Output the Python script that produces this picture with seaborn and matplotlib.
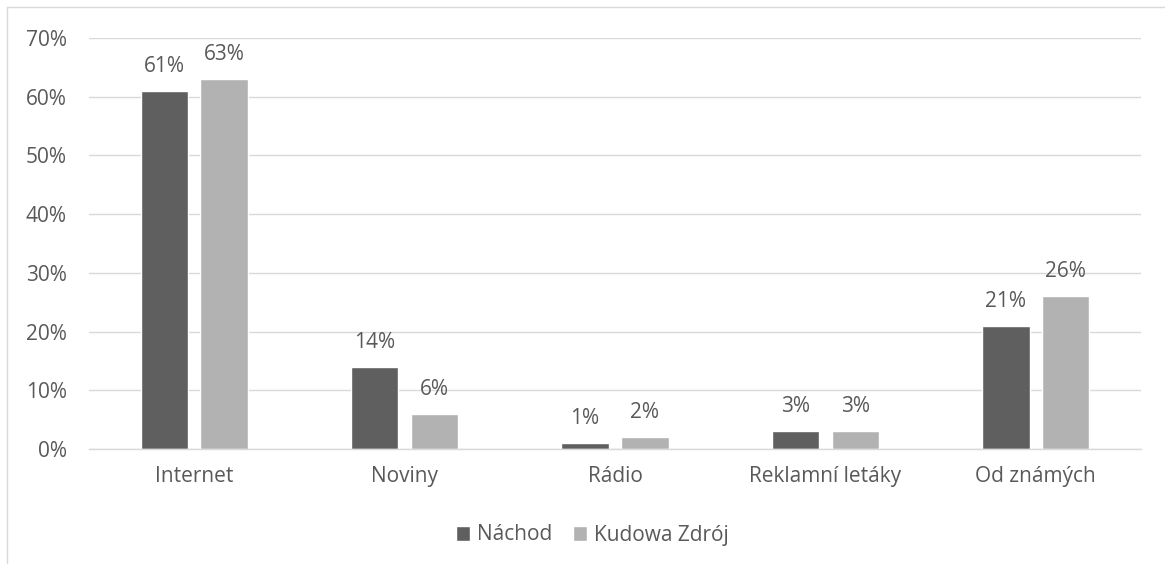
import seaborn as sns
import matplotlib.pyplot as plt
import pandas as pd
from matplotlib.lines import Line2D

categories = ['Internet', 'Noviny', 'Rádio', 'Reklamní letáky', 'Od známých']
nachod = [0.61, 0.14, 0.01, 0.03, 0.21]
kudowa = [0.63, 0.06, 0.02, 0.03, 0.26]
series = ['Náchod', 'Kudowa Zdrój']
colors = ['#5f5f5f', '#b2b2b2']
yticks = [0, 0.1, 0.2, 0.3, 0.4, 0.5, 0.6, 0.7]

text_color = '#595959'
grid_color = '#d9d9d9'

df = pd.DataFrame({
    'category': categories * 2,
    'value': nachod + kudowa,
    'series': [series[0]] * len(categories) + [series[1]] * len(categories),
})

sns.set_theme(style='white')
plt.rcParams['font.family'] = ['Open Sans', 'DejaVu Sans']

fig = plt.figure(figsize=(11.65, 5.64), dpi=100)
ax = fig.add_axes([89 / 1165, 1 - 449 / 564, (1141 - 89) / 1165, (449 - 38) / 564])

sns.barplot(data=df, x='category', y='value', hue='series', palette=colors,
            width=0.57, gap=0.21, saturation=1, ax=ax, legend=True)

for container in ax.containers:
    ax.bar_label(container, labels=[f'{v * 100:.0f}%' for v in container.datavalues],
                 padding=10, fontsize=15, color=text_color)

ax.set_ylim(0, 0.7)
ax.set_yticks(yticks)
ax.set_yticklabels([f'{t * 100:.0f}%' for t in yticks])
ax.set_xlim(-0.5, len(categories) - 0.5)
ax.set_xlabel('')
ax.set_ylabel('')
ax.yaxis.grid(True, color=grid_color, linewidth=1.0)
ax.set_axisbelow(True)
for side in ['left', 'right', 'top']:
    ax.spines[side].set_visible(False)
ax.spines['bottom'].set_color(grid_color)
ax.spines['bottom'].set_linewidth(1.0)
ax.tick_params(axis='both', length=0, labelsize=15, labelcolor=text_color)
ax.tick_params(axis='y', pad=16)
ax.tick_params(axis='x', pad=12)

handles, labels = ax.get_legend_handles_labels()
ax.legend(handles, labels, loc='center', bbox_to_anchor=(592 / 1165, 1 - 535 / 564),
          bbox_transform=fig.transFigure, ncol=2, frameon=False, fontsize=15,
          labelcolor=text_color, handlelength=0.7, handleheight=0.7,
          handletextpad=0.3, columnspacing=1.0)

# outer chart border (top and left edges visible)
fig.add_artist(Line2D([7 / 1165, 1], [1 - 7 / 564, 1 - 7 / 564], color=grid_color,
                      linewidth=1.0, transform=fig.transFigure))
fig.add_artist(Line2D([7 / 1165, 7 / 1165], [0, 1 - 7 / 564], color=grid_color,
                      linewidth=1.0, transform=fig.transFigure))

fig.savefig('out.png', dpi=100)
